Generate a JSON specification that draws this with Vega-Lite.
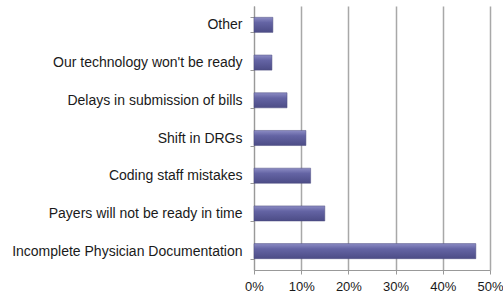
{
  "$schema": "https://vega.github.io/schema/vega-lite/v6.json",
  "autosize": "none",
  "width": 236,
  "height": 264,
  "padding": {"left": 254, "top": 6, "right": 13, "bottom": 34},
  "background": "white",
  "config": {"view": {"stroke": null}, "font": "Liberation Sans"},
  "data": {"values": [
    {"reason": "Other", "pct": 0.04},
    {"reason": "Our technology won't be ready", "pct": 0.038},
    {"reason": "Delays in submission of bills", "pct": 0.07},
    {"reason": "Shift in DRGs", "pct": 0.11},
    {"reason": "Coding staff mistakes", "pct": 0.12},
    {"reason": "Payers will not be ready in time", "pct": 0.15},
    {"reason": "Incomplete Physician Documentation", "pct": 0.47}
  ]},
  "mark": {
    "type": "bar",
    "stroke": "#4a4a7e",
    "strokeWidth": 0.5,
    "color": {"gradient": "linear", "x1": 0, "y1": 0, "x2": 0, "y2": 1,
      "stops": [{"offset": 0, "color": "#8c8cc4"}, {"offset": 0.35, "color": "#6464a4"}, {"offset": 1, "color": "#4c4c86"}]}
  },
  "encoding": {
    "y": {"field": "reason", "type": "nominal", "sort": null, "title": null,
      "scale": {"paddingInner": 0.6, "paddingOuter": 0.3},
      "axis": {"tickBand": "extent", "domainColor": "#999999", "tickColor": "#999999", "tickSize": 4,
        "labelPadding": 8, "labelFontSize": 14, "labelColor": "#1a1a1a", "labelLimit": 260, "grid": false}},
    "x": {"field": "pct", "type": "quantitative", "title": null,
      "scale": {"domain": [0, 0.5], "nice": false},
      "axis": {"format": "%", "values": [0, 0.1, 0.2, 0.3, 0.4, 0.5], "grid": true, "gridColor": "#a8a8a8", "gridWidth": 1.5,
        "domainColor": "#999999", "tickColor": "#999999", "tickSize": 4, "labelPadding": 6,
        "labelFontSize": 13, "labelColor": "#1a1a1a", "labelFlush": false}}
  }
}
